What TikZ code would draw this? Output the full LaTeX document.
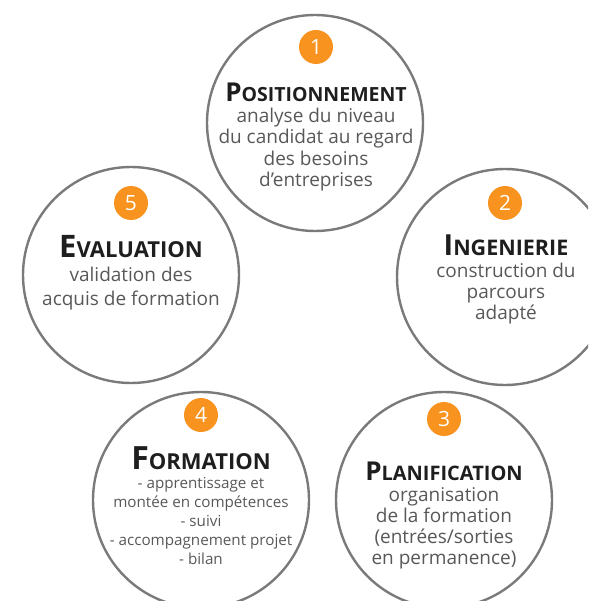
\documentclass[tikz,border=0pt]{standalone}
\usepackage{fontspec}
\setmainfont{Open Sans}
\usetikzlibrary{positioning}
\definecolor{ringgray}{HTML}{7A7A7A}
\definecolor{badgeorange}{HTML}{F7931E}
\definecolor{textgray}{HTML}{585858}
\definecolor{titleblack}{HTML}{1E1E1E}
\tikzset{
    ring/.style={circle, draw=ringgray, line width=2.4pt, minimum size=216pt, inner sep=0pt}, % the big step circles
    badge/.style={circle, fill=badgeorange, text=white, minimum size=34pt, inner sep=0pt, font=\fontsize{21}{21}\selectfont},
    steptitle/.style={inner sep=0pt, text=titleblack, anchor=base},
    stepbody/.style={inner sep=0pt, text=textgray, align=center},
    node distance=7pt,
}
% first letter big, the rest in smaller capitals
\newcommand{\sctitle}[4]{\bfseries\fontsize{#3}{#3}\selectfont #1\fontsize{#4}{#4}\selectfont #2}

\begin{document}
\begin{tikzpicture}[x=1pt, y=-1pt]
    \useasboundingbox (0,0) rectangle (588,601);
    \clip (0,0) rectangle (588,601);
    \node[ring] (posit) at (315,123) {};
    \node[ring] (ingen) at (505,277) {};
    \node[ring] (plani) at (444,500) {};
    \node[ring] (forma) at (201,500) {};
    \node[ring] (evalu) at (131,275) {};
    \node[badge] (num1) at (316,47) {1};
    \node[badge] (num2) at (505,203) {2};
    \node[badge] (num3) at (444,419) {3};
    \node[badge] (num4) at (201,415) {4};
    \node[badge] (num5) at (131,203) {5};
    \node[steptitle] (positT) at (316,102) {\sctitle{P}{OSITIONNEMENT}{26}{19.5}};
    \node[stepbody, below=5pt of positT, font=\fontsize{19}{21.5}\selectfont] (positB)
        {analyse du niveau\\du candidat au regard\\des besoins\\d’entreprises};
    \node[steptitle] (ingenT) at (506,255) {\sctitle{I}{NGENIERIE}{29}{21.5}};
    \node[stepbody, below=7pt of ingenT, font=\fontsize{19}{21}\selectfont] (ingenB)
        {construction du\\parcours\\adapté};
    \node[steptitle] (planiT) at (444,480) {\sctitle{P}{LANIFICATION}{26}{20}};
    \node[stepbody, below=7pt of planiT, font=\fontsize{19}{21}\selectfont] (planiB)
        {organisation\\de la formation\\(entrées/sorties\\en permanence)};
    \node[steptitle] (formaT) at (201,469) {\sctitle{F}{ORMATION}{32}{22}};
    \node[stepbody, below=8pt of formaT, font=\fontsize{15.2}{19}\selectfont] (formaB)
        {- apprentissage et\\montée en compétences\\- suivi\\- accompagnement projet\\- bilan};
    \node[steptitle] (evaluT) at (131,257) {\sctitle{E}{VALUATION}{31}{22}};
    \node[stepbody, below=9pt of evaluT, font=\fontsize{19}{24}\selectfont] (evaluB)
        {validation des\\acquis de formation};
\end{tikzpicture}
\end{document}
